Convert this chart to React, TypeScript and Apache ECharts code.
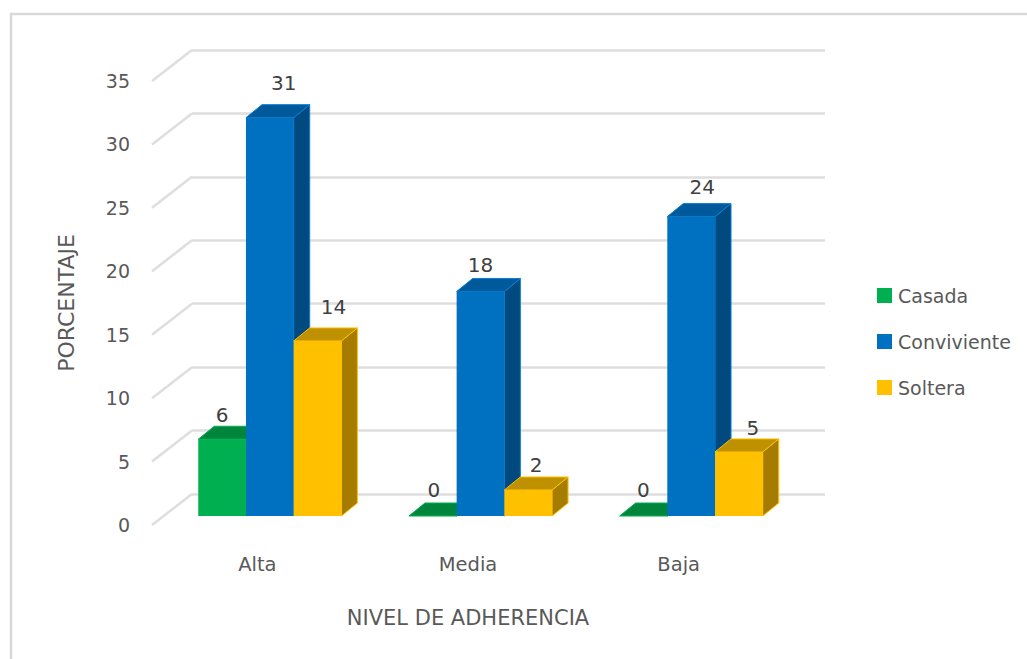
import React, { useEffect, useRef } from "react";
import * as echarts from "echarts";

const categories = ["Alta", "Media", "Baja"];
const seriesNames = ["Casada", "Conviviente", "Soltera"];
const casada = [6.05, 0, 0];
const conviviente = [31.4, 17.7, 23.6];
const soltera = [13.8, 2.05, 5.05];
const casadaLabels = [6, 0, 0];
const convivienteLabels = [31, 18, 24];
const solteraLabels = [14, 2, 5];
const yTicks = [0, 5, 10, 15, 20, 25, 30, 35];

// Layout of the pseudo 3D box (pixels)
const FONT = '"DejaVu Sans", sans-serif';
const TEXT = "#595959";
const GRID_COLOR = "#DEDEDE";
const WALL_X = 152;
const WALL_DX = 40;
const WALL_DY = -31;
const BAR_DX = 16;
const BAR_DY = -13;
const BAR_LIFT = -9;
const BAR_BAND = 0.2265;
const labelNudges = [
  [[-8, -11], [-7, -13], [-8, -13]],
  [[6, -22], [-8, -13], [3, -17]],
  [[8, -21], [0, -12], [6, -11]],
];
const faces = [
  { front: "#00B050", top: "#00853C", side: "#00853C" },
  { front: "#0070C0", top: "#00599A", side: "#004A80" },
  { front: "#FFC000", top: "#BF9000", side: "#A67C00" },
];
const edges = ["#00B050", "#0B7CD0", "#FFC000"];

function barRenderer(si: number, labels: number[]) {
  return (_p: any, api: any) => {
    const cat = api.value(0);
    const val = api.value(1);
    const band = api.size([1, 0])[0];
    const w = band * BAR_BAND;
    const c0 = api.coord([cat, 0]);
    const c1 = api.coord([cat, val]);
    const cx = c0[0] + 12.5 + (si - 1) * w;
    const l = cx - w / 2;
    const r = cx + w / 2;
    const b = c0[1] + BAR_LIFT;
    const t = c1[1] + BAR_LIFT;
    const f = faces[si];
    const edge = edges[si];
    const nudge = labelNudges[si][cat];
    return {
      type: "group",
      children: [
        {
          type: "polygon",
          shape: { points: [[r, b], [r + BAR_DX, b + BAR_DY], [r + BAR_DX, t + BAR_DY], [r, t]] },
          style: { fill: f.side, stroke: edge, lineWidth: 1 },
        },
        {
          type: "polygon",
          shape: { points: [[l, t], [l + BAR_DX, t + BAR_DY], [r + BAR_DX, t + BAR_DY], [r, t]] },
          style: { fill: f.top, stroke: edge, lineWidth: 1 },
        },
        {
          type: "rect",
          shape: { x: l, y: t, width: w, height: Math.max(b - t, 0) },
          style: { fill: f.front },
        },
        {
          type: "text",
          x: cx + BAR_DX / 2 + nudge[0],
          y: t + BAR_DY + nudge[1],
          style: {
            text: String(labels[cat]),
            fill: "#404040",
            font: `20px ${FONT}`,
            textAlign: "center",
            textVerticalAlign: "middle",
          },
        },
      ],
    };
  };
}

function wallTicks(_p: any, api: any) {
  const p = api.coord([0, api.value(0)]);
  return {
    type: "line",
    shape: { x1: WALL_X, y1: p[1], x2: WALL_X + WALL_DX, y2: p[1] + WALL_DY },
    style: { stroke: GRID_COLOR, lineWidth: 2.5 },
  };
}

export default function App() {
  const ref = useRef<HTMLDivElement>(null);
  useEffect(() => {
    const chart = echarts.init(ref.current!, undefined, { renderer: "svg" });
    const rows = [casada, conviviente, soltera];
    const labels = [casadaLabels, convivienteLabels, solteraLabels];
    chart.setOption({
      animation: false,
      backgroundColor: "#fff",
      graphic: [
        {
          type: "polyline",
          shape: { points: [[11, 659], [11, 14], [1027, 14]] },
          style: { fill: "none", stroke: "#D9D9D9", lineWidth: 2.5 },
        },
      ],
      legend: {
        orient: "vertical",
        left: 877,
        top: 286,
        padding: 0,
        itemWidth: 15,
        itemHeight: 15,
        itemGap: 27,
        icon: "rect",
        selectedMode: false,
        data: seriesNames,
        textStyle: { color: TEXT, fontFamily: FONT, fontSize: 19, padding: [0, 0, 0, 1] },
      },
      grid: [
        { left: 192, top: 50, width: 633, height: 444 },
        { left: WALL_X, top: 81, width: 632, height: 444 },
      ],
      xAxis: [
        { type: "category", gridIndex: 0, data: categories, show: false },
        {
          type: "category",
          gridIndex: 1,
          data: categories,
          axisLine: { show: false },
          axisTick: { show: false },
          axisLabel: { color: TEXT, fontFamily: FONT, fontSize: 19.5, margin: 29 },
          name: "NIVEL DE ADHERENCIA",
          nameLocation: "middle",
          nameGap: 82,
          nameTextStyle: { color: TEXT, fontFamily: FONT, fontSize: 21 },
        },
      ],
      yAxis: [
        {
          type: "value",
          gridIndex: 0,
          min: 0,
          max: 35,
          interval: 5,
          axisLine: { show: false },
          axisTick: { show: false },
          axisLabel: { show: false },
          splitLine: { lineStyle: { color: GRID_COLOR, width: 2.5 } },
        },
        {
          type: "value",
          gridIndex: 1,
          min: 0,
          max: 35,
          interval: 5,
          axisLine: { show: false },
          axisTick: { show: false },
          splitLine: { show: false },
          axisLabel: { color: TEXT, fontFamily: FONT, fontSize: 19, margin: 22 },
          name: "PORCENTAJE",
          nameLocation: "middle",
          nameGap: 75,
          nameTextStyle: { color: TEXT, fontFamily: FONT, fontSize: 22 },
        },
      ],
      series: [
        {
          type: "custom",
          name: "walls",
          xAxisIndex: 1,
          yAxisIndex: 1,
          silent: true,
          data: yTicks.map((v) => [v]),
          encode: { y: 0 },
          renderItem: wallTicks,
          z: 1,
        },
        ...seriesNames.map((name, si) => ({
          type: "custom",
          name,
          xAxisIndex: 1,
          yAxisIndex: 1,
          itemStyle: { color: faces[si].front },
          data: rows[si].map((v, i) => [i, v]),
          encode: { x: 0, y: 1 },
          renderItem: barRenderer(si, labels[si]),
          clip: false,
          z: 2 + si,
        })),
      ],
    });
    return () => chart.dispose();
  }, []);
  return <div ref={ref} style={{ position: "absolute", left: 0, top: 0, width: 1027, height: 659 }} />;
}
